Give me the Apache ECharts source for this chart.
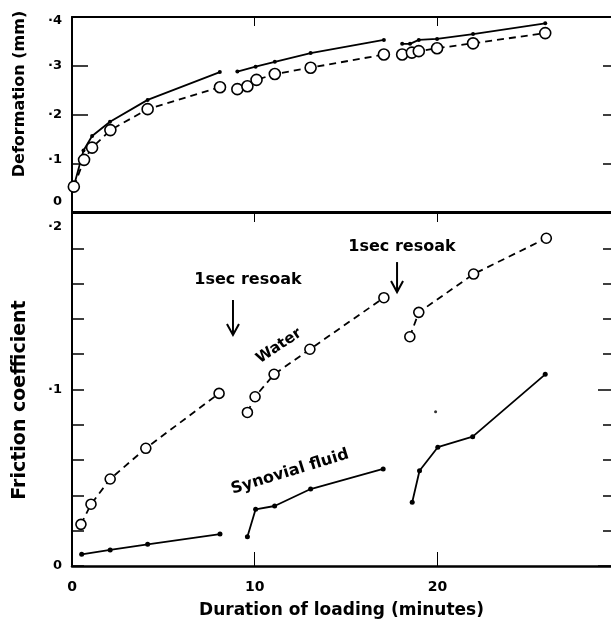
<!DOCTYPE html>
<html><head><meta charset="utf-8">
<script src="https://cdn.jsdelivr.net/npm/echarts@6/dist/echarts.min.js"></script>
<style>html,body{margin:0;padding:0;background:#fff}#c{width:611px;height:626px}</style>
</head><body><div id="c"></div>
<script>
// ---- Data (null marks a break between resoak segments) ----
// Top panel: Deformation (mm)
const defTimeWater = [0.1,0.66,1.1,2.1,4.14,8.1,null,9.05,9.6,10.1,11.1,13.06,17.07,null,18.07,18.6,18.98,19.98,21.95,25.9];
const defWater     = [0.052,0.107,0.132,0.168,0.211,0.256,null,0.252,0.258,0.271,0.283,0.296,0.323,null,0.323,0.327,0.330,0.336,0.346,0.367];
const defTimeSyn   = [0.1,0.63,1.1,2.08,4.14,8.09,null,9.05,10.05,11.1,13.06,17.07,null,18.07,18.5,18.98,19.98,21.95,25.9];
const defSyn       = [0.053,0.126,0.156,0.185,0.230,0.287,null,0.288,0.298,0.308,0.326,0.353,null,0.345,0.345,0.353,0.355,0.365,0.387];
// Bottom panel: Friction coefficient
const fricTimeWater = [0.49,1.04,2.09,4.04,8.05,null,9.6,10.02,11.06,13.02,17.07,null,18.49,18.98,21.98,25.96];
const fricWater     = [0.0236,0.035,0.0493,0.0667,0.0978,null,0.087,0.0959,0.1086,0.1228,0.152,null,0.1299,0.1437,0.1654,0.1857];
const fricTimeSyn   = [0.53,2.09,4.14,8.1,null,9.6,10.05,11.09,13.06,17.03,null,18.62,19.02,20.02,21.93,25.9];
const fricSyn       = [0.0066,0.0091,0.0123,0.0181,null,0.0166,0.0321,0.034,0.0436,0.055,null,0.0361,0.054,0.0673,0.0733,0.1086];
const strayTime = [19.9];
const strayVal  = [0.0874];
// Tick labels
const xTickLabels = {0:'0',10:'10',20:'20'};
const defTickLabels = {0:'0',1:'·1',2:'·2',3:'·3',4:'·4'};
const fricTickLabels = {0:'0',5:'·1',10:'·2'};

function pairs(xs, ys){ return xs.map((x,i)=> x===null ? ['-','-'] : [x, ys[i]]); }

const FONT = '"DejaVu Sans", sans-serif';
const black = '#000';

const chart = echarts.init(document.getElementById('c'), null, {renderer:'canvas'});
const labelBase = {fontFamily:FONT, fontWeight:'bold', fontSize:13, color:black};
const line = w => ({show:true, onZero:false, lineStyle:{color:black, width:w}});
const noLine = {show:false, onZero:false};

const option = {
  animation:false,
  backgroundColor:'#fff',
  grid:[
    {left:72, right:0, top:17, height:195},
    {left:72, right:0, top:213, height:353}
  ],
  xAxis:[
    {gridIndex:0, type:'value', position:'bottom', min:0, max:29.5, interval:10,
     axisLine:line(2), axisTick:{show:false}, axisLabel:{show:false}, splitLine:{show:false}},
    {gridIndex:0, type:'value', position:'top', min:0, max:29.5, interval:10,
     axisLine:line(2), axisTick:{show:true, inside:true, length:9, lineStyle:{color:black,width:1}}, axisLabel:{show:false}, splitLine:{show:false}},
    {gridIndex:1, type:'value', position:'top', min:0, max:29.5, interval:10,
     axisLine:line(2), axisTick:{show:true, inside:true, length:9, lineStyle:{color:black,width:1}}, axisLabel:{show:false}, splitLine:{show:false}},
    {gridIndex:1, type:'value', position:'bottom', min:0, max:29.5, interval:10,
     axisLine:line(2.5), axisTick:{show:true, inside:true, length:14, lineStyle:{color:black,width:1}},
     axisLabel:Object.assign({}, labelBase, {fontSize:14, margin:14, showMaxLabel:false, formatter:v=> Math.abs(v-Math.round(v))<1e-6 && xTickLabels[Math.round(v)] !== undefined ? xTickLabels[Math.round(v)] : ''}),
     splitLine:{show:false},
     name:'Duration of loading (minutes)', nameLocation:'middle', nameGap:36,
     nameTextStyle:{fontFamily:FONT, fontWeight:'bold', fontSize:17, color:black}}
  ],
  yAxis:[
    {gridIndex:0, type:'value', position:'left', min:0, max:0.4, interval:0.1,
     axisLine:line(2), axisTick:{show:true, inside:true, length:16, lineStyle:{color:black,width:1.5}},
     splitLine:{show:false},
     axisLabel:Object.assign({}, labelBase, {margin:10, formatter:v=>{
        const k=Math.round(v*10); const t=defTickLabels[k];
        if(k===0) return '{up|'+t+'}';
        if(k===1) return '{up2|'+t+'}';
        if(k===4) return '{dn2|'+t+'}';
        return '{n|'+t+'}';
     }, rich:{
        n:Object.assign({}, labelBase),
        up:Object.assign({padding:[0,0,20,0]}, labelBase),
        up2:Object.assign({padding:[0,0,8,0]}, labelBase),
        dn2:Object.assign({padding:[8,0,0,0]}, labelBase)
     }})},
    {gridIndex:0, type:'value', position:'right', min:0, max:0.4, interval:0.1,
     axisLine:noLine, axisTick:{show:true, inside:true, length:8, lineStyle:{color:black,width:1.5}}, axisLabel:{show:false}, splitLine:{show:false}},
    {gridIndex:1, type:'value', position:'left', min:0, max:0.2, interval:0.02,
     axisLine:line(2), axisTick:{show:true, inside:true, length:12, lineStyle:{color:black,width:1.5}},
     splitLine:{show:false},
     axisLabel:Object.assign({}, labelBase, {margin:10, formatter:v=>{
        const k=Math.round(v*50); const t=fricTickLabels[k];
        if(t===undefined) return '';
        if(k===10) return '{dn|'+t+'}';
        return '{n|'+t+'}';
     }, rich:{
        n:Object.assign({}, labelBase),
        dn:Object.assign({padding:[28,0,0,0]}, labelBase)
     }})},
    {gridIndex:1, type:'value', position:'right', min:0, max:0.2, interval:0.02,
     axisLine:noLine, axisTick:{show:true, inside:true, length:8, lineStyle:{color:black,width:1.5}}, axisLabel:{show:false}, splitLine:{show:false}},
    {gridIndex:1, type:'value', position:'right', min:0, max:0.2, interval:0.1,
     axisLine:noLine, axisTick:{show:true, inside:true, length:13, lineStyle:{color:black,width:1.5}}, axisLabel:{show:false}, splitLine:{show:false}}
  ],
  series:[
    {type:'line', name:'def-water', xAxisIndex:0, yAxisIndex:0, data:pairs(defTimeWater, defWater),
     symbol:'circle', symbolSize:11, showAllSymbol:true,
     lineStyle:{color:black, width:1.8, type:[7,5]}, itemStyle:{color:'#fff', borderColor:black, borderWidth:1.6}, z:3},
    {type:'line', name:'def-syn', xAxisIndex:0, yAxisIndex:0, data:pairs(defTimeSyn, defSyn),
     symbol:'circle', symbolSize:4, showAllSymbol:true,
     lineStyle:{color:black, width:1.8}, itemStyle:{color:black, borderWidth:0}, z:2},
    {type:'line', name:'fric-water', xAxisIndex:3, yAxisIndex:2, data:pairs(fricTimeWater, fricWater),
     symbol:'circle', symbolSize:10, showAllSymbol:true,
     lineStyle:{color:black, width:1.8, type:[7,5]}, itemStyle:{color:'#fff', borderColor:black, borderWidth:1.6}, z:3},
    {type:'line', name:'fric-syn', xAxisIndex:3, yAxisIndex:2, data:pairs(fricTimeSyn, fricSyn),
     symbol:'circle', symbolSize:5, showAllSymbol:true,
     lineStyle:{color:black, width:1.8}, itemStyle:{color:black, borderWidth:0}, z:2},
    {type:'scatter', name:'stray', xAxisIndex:3, yAxisIndex:2, data:pairs(strayTime, strayVal),
     symbol:'circle', symbolSize:3, itemStyle:{color:black}}
  ]
};
chart.setOption(option);

// ---- Annotations (positioned in data coordinates of the bottom panel) ----
const annotTexts = [
  {text:'1sec resoak', at:[9.63,0.162], rot:0, size:16},
  {text:'1sec resoak', at:[18.06,0.1807], rot:0, size:16},
  {text:'Water', at:[11.33,0.1246], rot:34, size:15},
  {text:'Synovial fluid', at:[11.93,0.0533], rot:17, size:16}
];
const annotArrows = [
  {x:8.81, from:0.1507, to:0.1309},
  {x:17.79, from:0.1722, to:0.1552}
];
const toPx = p => chart.convertToPixel({seriesIndex:2}, p);
const graphics = [];
annotTexts.forEach(a=>{
  const p = toPx(a.at);
  graphics.push({type:'text', x:p[0], y:p[1], rotation:a.rot*Math.PI/180,
    style:{text:a.text, fill:black, font:'bold '+a.size+'px '+FONT, align:'center', verticalAlign:'middle'}});
});
annotArrows.forEach(a=>{
  const p1 = toPx([a.x,a.from]), p2 = toPx([a.x,a.to]);
  graphics.push({type:'line', shape:{x1:p1[0],y1:p1[1],x2:p2[0],y2:p2[1]}, style:{stroke:black, lineWidth:2}});
  graphics.push({type:'polyline', shape:{points:[[p2[0]-6,p2[1]-11],[p2[0],p2[1]],[p2[0]+6,p2[1]-11]]}, style:{stroke:black, lineWidth:2, fill:null}});
});
// axis titles
graphics.push({type:'text', x:20, y:94, rotation:Math.PI/2,
  style:{text:'Deformation (mm)', fill:black, font:'bold 16px '+FONT, align:'center', verticalAlign:'middle'}});
graphics.push({type:'text', x:20, y:400, rotation:Math.PI/2,
  style:{text:'Friction coefficient', fill:black, font:'bold 19px '+FONT, align:'center', verticalAlign:'middle'}});
chart.setOption({graphic:graphics});
</script>
</body></html>
